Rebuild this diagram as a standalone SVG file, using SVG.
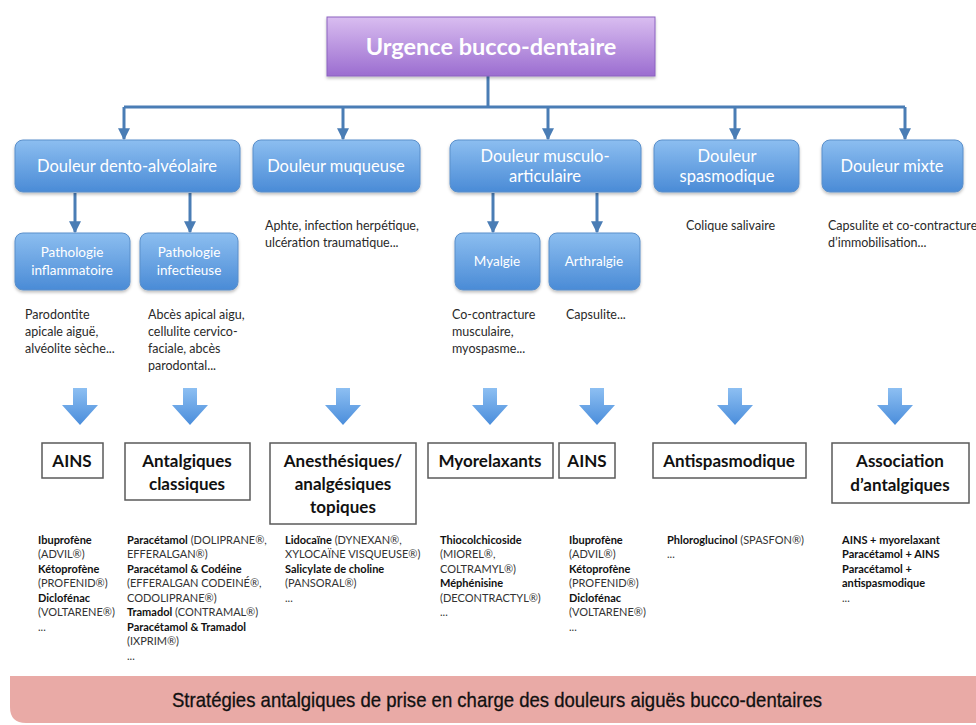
<svg xmlns="http://www.w3.org/2000/svg" xmlns:xlink="http://www.w3.org/1999/xlink" width="976" height="725" viewBox="0 0 976 725">
<style>
.cat{fill:url(#gBlue);stroke:#5a8fca;stroke-width:1}
.ct{font-family:Lato,"Open Sans","DejaVu Sans",sans-serif;font-size:16.5px;fill:#ffffff;text-anchor:middle}
.st{font-family:Lato,"Open Sans","DejaVu Sans",sans-serif;font-size:13.5px;fill:#ffffff;text-anchor:middle}
.desc{font-family:Lato,"Open Sans","DejaVu Sans",sans-serif;font-size:12.5px;fill:#2a2a2a}
.drugbox{fill:#ffffff;stroke:#5a5a5a;stroke-width:1.5}
.dt{font-family:Lato,"Open Sans","DejaVu Sans",sans-serif;font-size:17px;font-weight:bold;fill:#111;text-anchor:middle}
.lst{font-family:Lato,"Open Sans","DejaVu Sans",sans-serif;font-size:11px;fill:#333}
.b{font-weight:bold;fill:#111}
.conn{stroke:#4a7db5;stroke-width:3;fill:none}
</style>
<defs>
<linearGradient id="gBlue" x1="0" y1="0" x2="0" y2="1">
<stop offset="0" stop-color="#8cbef0"/>
<stop offset="1" stop-color="#4a8bd6"/>
</linearGradient>
<linearGradient id="gPurple" x1="0" y1="0" x2="0" y2="1">
<stop offset="0" stop-color="#d9bdf0"/>
<stop offset="1" stop-color="#9b6dd0"/>
</linearGradient>
<linearGradient id="gArrow" x1="0" y1="0" x2="0" y2="1">
<stop offset="0" stop-color="#8dbff2"/>
<stop offset="1" stop-color="#4a8ddb"/>
</linearGradient>
<filter id="sh" x="-10%" y="-10%" width="120%" height="130%">
<feDropShadow dx="0" dy="2" stdDeviation="1.5" flood-color="#000" flood-opacity="0.25"/>
</filter>
<marker id="ah" viewBox="0 0 10 10" refX="9" refY="5" markerWidth="4" markerHeight="4" orient="auto" markerUnits="strokeWidth">
<path d="M0,0 L10,5 L0,10 z" fill="#4a7db5"/>
</marker>
<path id="barrow" d="M-7,0 L7,0 L7,17 L18,17 L0,37 L-18,17 L-7,17 z" fill="url(#gArrow)"/>
</defs>

<rect x="0" y="0" width="976" height="725" fill="#ffffff"/>

<g id="connectors">
<path class="conn" d="M488,76 L488,107"/>
<path class="conn" d="M124,107 L905,107"/>
<path class="conn" d="M124,107 L124,139" marker-end="url(#ah)"/>
<path class="conn" d="M343,107 L343,139" marker-end="url(#ah)"/>
<path class="conn" d="M548,107 L548,139" marker-end="url(#ah)"/>
<path class="conn" d="M735,107 L735,139" marker-end="url(#ah)"/>
<path class="conn" d="M905,107 L905,139" marker-end="url(#ah)"/>
<path class="conn" d="M75,193 L75,232" marker-end="url(#ah)"/>
<path class="conn" d="M190,193 L190,232" marker-end="url(#ah)"/>
<path class="conn" d="M493,193 L493,232" marker-end="url(#ah)"/>
<path class="conn" d="M597,193 L597,232" marker-end="url(#ah)"/>
<use xlink:href="#barrow" href="#barrow" x="80" y="388"/>
<use xlink:href="#barrow" href="#barrow" x="190" y="388"/>
<use xlink:href="#barrow" href="#barrow" x="343" y="388"/>
<use xlink:href="#barrow" href="#barrow" x="490" y="388"/>
<use xlink:href="#barrow" href="#barrow" x="597" y="388"/>
<use xlink:href="#barrow" href="#barrow" x="735" y="388"/>
<use xlink:href="#barrow" href="#barrow" x="895" y="388"/>
</g>

<g id="root">
<rect x="327" y="17" width="328" height="59" fill="url(#gPurple)" stroke="#8c62c0" stroke-width="1" filter="url(#sh)"/>
<text x="491" y="55" font-family="Lato,'Open Sans',sans-serif" font-size="23.5" font-weight="bold" fill="#ffffff" text-anchor="middle">Urgence bucco-dentaire</text>
</g>

<g id="cat-dento">
<rect class="cat" x="15" y="140" width="225" height="52" rx="8" filter="url(#sh)"/>
<text class="ct" x="127" y="172">Douleur dento-alvéolaire</text>
</g>
<g id="cat-muqueuse">
<rect class="cat" x="253" y="140" width="167" height="52" rx="8" filter="url(#sh)"/>
<text class="ct" x="336" y="172">Douleur muqueuse</text>
</g>
<g id="cat-musculo">
<rect class="cat" x="450" y="140" width="191" height="52" rx="8" filter="url(#sh)"/>
<text class="ct" x="545" y="162">Douleur musculo-</text>
<text class="ct" x="545" y="182">articulaire</text>
</g>
<g id="cat-spasmo">
<rect class="cat" x="654" y="140" width="145" height="52" rx="8" filter="url(#sh)"/>
<text class="ct" x="727" y="162">Douleur</text>
<text class="ct" x="727" y="182">spasmodique</text>
</g>
<g id="cat-mixte">
<rect class="cat" x="822" y="140" width="141" height="52" rx="8" filter="url(#sh)"/>
<text class="ct" x="892" y="172">Douleur mixte</text>
</g>

<g id="sub-inflam">
<rect class="cat" x="15" y="233" width="115" height="57" rx="8" filter="url(#sh)"/>
<text class="st" x="72" y="257">Pathologie</text>
<text class="st" x="72" y="275">inflammatoire</text>
</g>
<g id="sub-infect">
<rect class="cat" x="140" y="233" width="98" height="57" rx="8" filter="url(#sh)"/>
<text class="st" x="189" y="257">Pathologie</text>
<text class="st" x="189" y="275">infectieuse</text>
</g>
<g id="sub-myalgie">
<rect class="cat" x="455" y="233" width="85" height="57" rx="8" filter="url(#sh)"/>
<text class="st" x="497" y="266">Myalgie</text>
</g>
<g id="sub-arthralgie">
<rect class="cat" x="549" y="233" width="91" height="57" rx="8" filter="url(#sh)"/>
<text class="st" x="594" y="266">Arthralgie</text>
</g>

<g id="desc-texts">
<text class="desc" x="25" y="319">Parodontite</text>
<text class="desc" x="25" y="336">apicale aiguë,</text>
<text class="desc" x="25" y="353">alvéolite sèche...</text>
<text class="desc" x="148" y="319">Abcès apical aigu,</text>
<text class="desc" x="148" y="336">cellulite cervico-</text>
<text class="desc" x="148" y="353">faciale, abcès</text>
<text class="desc" x="148" y="370">parodontal...</text>
<text class="desc" x="265" y="230">Aphte, infection herpétique,</text>
<text class="desc" x="265" y="247">ulcération traumatique...</text>
<text class="desc" x="452" y="319">Co-contracture</text>
<text class="desc" x="452" y="336">musculaire,</text>
<text class="desc" x="452" y="353">myospasme...</text>
<text class="desc" x="566" y="319">Capsulite...</text>
<text class="desc" x="686" y="230">Colique salivaire</text>
<text class="desc" x="828" y="230">Capsulite et co-contracture</text>
<text class="desc" x="828" y="247">d’immobilisation...</text>
</g>

<g id="drug-ains1">
<rect class="drugbox" x="42" y="443" width="61" height="35"/>
<text class="dt" x="72" y="467">AINS</text>
</g>
<g id="drug-antalg">
<rect class="drugbox" x="125" y="443" width="125" height="57"/>
<text class="dt" x="187" y="467">Antalgiques</text>
<text class="dt" x="187" y="490">classiques</text>
</g>
<g id="drug-anesth">
<rect class="drugbox" x="270" y="443" width="146" height="81"/>
<text class="dt" x="343" y="467">Anesthésiques/</text>
<text class="dt" x="343" y="490">analgésiques</text>
<text class="dt" x="343" y="513">topiques</text>
</g>
<g id="drug-myorel">
<rect class="drugbox" x="428" y="443" width="125" height="35"/>
<text class="dt" x="490" y="467">Myorelaxants</text>
</g>
<g id="drug-ains2">
<rect class="drugbox" x="559" y="443" width="56" height="35"/>
<text class="dt" x="587" y="467">AINS</text>
</g>
<g id="drug-antispasmo">
<rect class="drugbox" x="653" y="443" width="153" height="35"/>
<text class="dt" x="729" y="467">Antispasmodique</text>
</g>
<g id="drug-assoc">
<rect class="drugbox" x="832" y="443" width="137" height="60"/>
<text class="dt" x="900" y="467">Association</text>
<text class="dt" x="900" y="491">d’antalgiques</text>
</g>

<g id="list-1">
<text class="lst" x="38" y="544"><tspan class="b">Ibuprofène</tspan></text>
<text class="lst" x="38" y="558">(ADVIL®)</text>
<text class="lst" x="38" y="573"><tspan class="b">Kétoprofène</tspan></text>
<text class="lst" x="38" y="587">(PROFENID®)</text>
<text class="lst" x="38" y="602"><tspan class="b">Diclofénac</tspan></text>
<text class="lst" x="38" y="616">(VOLTARENE®)</text>
<text class="lst" x="38" y="631">...</text>
</g>
<g id="list-2">
<text class="lst" x="127" y="544"><tspan class="b">Paracétamol</tspan> (DOLIPRANE®,</text>
<text class="lst" x="127" y="558">EFFERALGAN®)</text>
<text class="lst" x="127" y="573"><tspan class="b">Paracétamol &amp; Codéine</tspan></text>
<text class="lst" x="127" y="587">(EFFERALGAN CODEINÉ®,</text>
<text class="lst" x="127" y="602">CODOLIPRANE®)</text>
<text class="lst" x="127" y="616"><tspan class="b">Tramadol</tspan> (CONTRAMAL®)</text>
<text class="lst" x="127" y="631"><tspan class="b">Paracétamol &amp; Tramadol</tspan></text>
<text class="lst" x="127" y="645">(IXPRIM®)</text>
<text class="lst" x="127" y="660">...</text>
</g>
<g id="list-3">
<text class="lst" x="285" y="544"><tspan class="b">Lidocaïne</tspan> (DYNEXAN®,</text>
<text class="lst" x="285" y="558">XYLOCAÏNE VISQUEUSE®)</text>
<text class="lst" x="285" y="573"><tspan class="b">Salicylate de choline</tspan></text>
<text class="lst" x="285" y="587">(PANSORAL®)</text>
<text class="lst" x="285" y="602">...</text>
</g>
<g id="list-4">
<text class="lst" x="440" y="544"><tspan class="b">Thiocolchicoside</tspan></text>
<text class="lst" x="440" y="558">(MIOREL®,</text>
<text class="lst" x="440" y="573">COLTRAMYL®)</text>
<text class="lst" x="440" y="587"><tspan class="b">Méphénisine</tspan></text>
<text class="lst" x="440" y="602">(DECONTRACTYL®)</text>
<text class="lst" x="440" y="616">...</text>
</g>
<g id="list-5">
<text class="lst" x="569" y="544"><tspan class="b">Ibuprofène</tspan></text>
<text class="lst" x="569" y="558">(ADVIL®)</text>
<text class="lst" x="569" y="573"><tspan class="b">Kétoprofène</tspan></text>
<text class="lst" x="569" y="587">(PROFENID®)</text>
<text class="lst" x="569" y="602"><tspan class="b">Diclofénac</tspan></text>
<text class="lst" x="569" y="616">(VOLTARENE®)</text>
<text class="lst" x="569" y="631">...</text>
</g>
<g id="list-6">
<text class="lst" x="667" y="544"><tspan class="b">Phloroglucinol</tspan> (SPASFON®)</text>
<text class="lst" x="667" y="558">...</text>
</g>
<g id="list-7">
<text class="lst b" x="842" y="544">AINS + myorelaxant</text>
<text class="lst b" x="842" y="558">Paracétamol + AINS</text>
<text class="lst b" x="842" y="573">Paracétamol +</text>
<text class="lst b" x="842" y="587">antispasmodique</text>
<text class="lst" x="842" y="602">...</text>
</g>

<g id="caption">
<path d="M10,676 L976,676 L976,723 L26,723 Q10,723 10,707 z" fill="#e9aaa6"/>
<text x="497" y="707" font-family="'Liberation Sans',Arial,sans-serif" font-size="21" fill="#111" stroke="#111" stroke-width="0.3" text-anchor="middle" textLength="650" lengthAdjust="spacingAndGlyphs">Stratégies antalgiques de prise en charge des douleurs aiguës bucco-dentaires</text>
</g>
</svg>
